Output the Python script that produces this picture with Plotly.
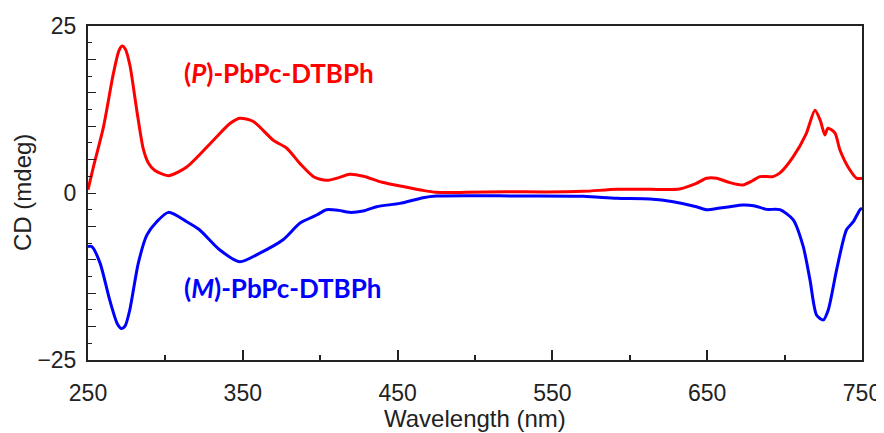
import plotly.graph_objects as go

# (P)-PbPc-DTBPh
p_wl = [250, 253.5, 260, 266.4, 270, 272, 274, 277, 281.5, 285.7, 289, 293, 302, 313.8, 331,
        341.7, 348, 356.8, 369.7, 378.4, 387, 396, 404, 412, 419, 428, 440, 455, 466, 475,
        494.5, 520, 545, 570, 591.5, 613, 632, 643, 649.6, 656, 664.7, 673, 679, 684, 692.5,
        697, 705.5, 714, 719.6, 723, 726, 728, 732.5, 735.8, 742.3, 746.6, 750]
p_cd = [0.5, 3.9, 9.9, 17.9, 21.3, 22.0, 21.6, 19.2, 12.4, 6.6, 4.5, 3.4, 2.6, 3.9, 7.9,
        10.4, 11.2, 10.7, 7.9, 6.7, 4.4, 2.4, 1.9, 2.3, 2.8, 2.5, 1.6, 0.9, 0.4, 0.1,
        0.1, 0.2, 0.15, 0.25, 0.55, 0.55, 0.6, 1.45, 2.2, 2.2, 1.55, 1.2, 1.8, 2.45, 2.45,
        3.0, 5.4, 8.9, 12.4, 10.9, 8.7, 9.7, 9.0, 6.4, 3.4, 2.2, 2.2]

# (M)-PbPc-DTBPh
m_wl = [250, 252.4, 257.8, 264, 269, 271.8, 274, 277, 282.5, 288, 294.4, 302, 313.8, 322, 335,
        348, 361, 376, 387, 397.7, 404, 412, 419, 427.7, 436.5, 451.5, 466.5, 475, 500, 530,
        570, 591.5, 613, 628, 643, 649.6, 657, 664.7, 673, 680, 688.4, 697, 705.5, 712,
        716.4, 720.7, 725, 728.2, 733.6, 740, 744.4, 748.7, 750]
m_cd = [-8.0, -8.0, -10.5, -16.0, -19.6, -20.3, -19.9, -17.5, -10.5, -6.3, -4.3, -2.9, -4.3, -5.5, -8.5,
        -10.3, -9.0, -7.0, -4.5, -3.3, -2.5, -2.6, -2.9, -2.7, -2.05, -1.55, -0.7, -0.45, -0.4, -0.45,
        -0.5, -0.8, -0.9, -1.3, -2.05, -2.5, -2.3, -2.05, -1.8, -1.9, -2.45, -2.5, -4.0, -8.0,
        -13.0, -18.3, -19.0, -17.5, -11.5, -5.5, -4.3, -2.5, -2.3]

x_ticks = [250, 350, 450, 550, 650, 750]
y_ticks = [-25, -20, -15, -10, -5, 0, 5, 10, 15, 20, 25]
y_text = ["\u221225", "", "", "", "", "0", "", "", "", "", "25"]

ink = "#222222"
fig = go.Figure()
fig.add_trace(go.Scatter(x=p_wl, y=p_cd, mode="lines", line=dict(color="#ff0000", width=3,
                         shape="spline", smoothing=0.7)))
fig.add_trace(go.Scatter(x=m_wl, y=m_cd, mode="lines", line=dict(color="#0000ff", width=3,
                         shape="spline", smoothing=0.7)))

fig.add_annotation(x=311, y=18.0, xanchor="left", yanchor="middle", showarrow=False,
                   text="<b>(<i>P</i>)-PbPc-DTBPh</b>",
                   font=dict(family="Lato", size=26, color="#ff0000"))
fig.add_annotation(x=311, y=-14.2, xanchor="left", yanchor="middle", showarrow=False,
                   text="<b>(<i>M</i>)-PbPc-DTBPh</b>",
                   font=dict(family="Lato", size=26, color="#0000ff"))

# axis titles as paper annotations
fig.add_annotation(xref="paper", yref="paper", x=0, y=0.5, xshift=-66, xanchor="center",
                   yanchor="middle", textangle=-90, showarrow=False, text="CD (mdeg)",
                   font=dict(size=24, color=ink))
fig.add_annotation(xref="paper", yref="paper", x=0.5, y=0, yshift=-58, xanchor="center",
                   yanchor="middle", showarrow=False, text="Wavelength (nm)",
                   font=dict(size=24, color=ink))

fig.update_layout(
    width=876, height=425,
    margin=dict(l=80, r=22, t=18, b=73),
    plot_bgcolor="white", paper_bgcolor="white",
    showlegend=False,
    font=dict(family="Liberation Sans, Arial", color=ink),
    xaxis=dict(range=[250, 750], tickvals=x_ticks, ticks="inside", ticklen=10,
               tickwidth=1.5, tickcolor=ink, automargin=False, ticklabelstandoff=11,
               minor=dict(dtick=50, tick0=250, ticks="inside", ticklen=5, tickcolor=ink),
               showline=True, linecolor=ink, linewidth=2, mirror=True,
               showgrid=False, zeroline=False, tickfont=dict(size=23)),
    yaxis=dict(range=[-25, 25], tickvals=y_ticks, ticktext=y_text, ticks="inside",
               ticklen=8, tickwidth=1, tickcolor=ink, automargin=False, ticklabelstandoff=5,
               minor=dict(dtick=2.5, tick0=0, ticks="inside", ticklen=4, tickcolor=ink),
               showline=True, linecolor=ink, linewidth=2, mirror=True,
               showgrid=False, zeroline=False, tickfont=dict(size=23)),
)

fig.write_html("out.html")
